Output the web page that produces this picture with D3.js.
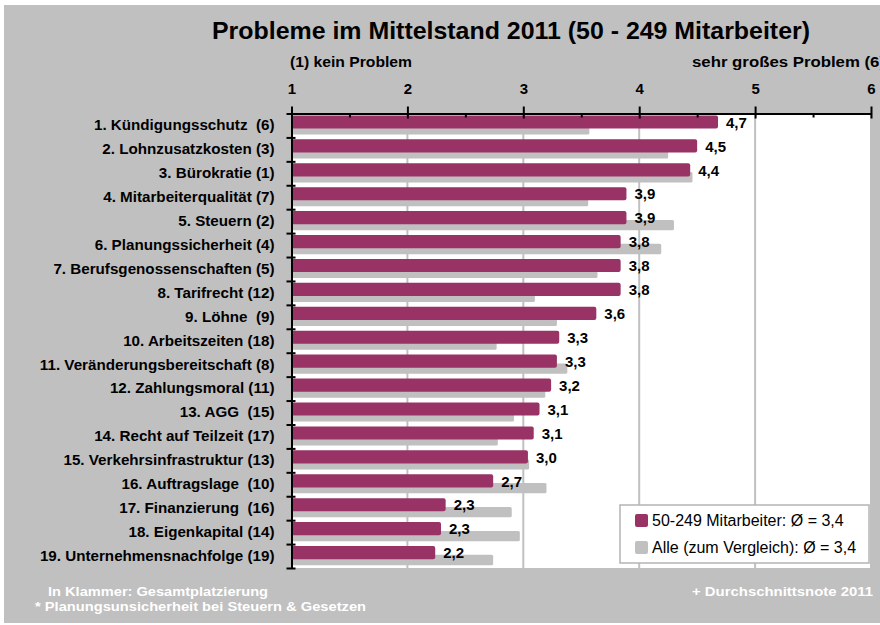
<!DOCTYPE html>
<html>
<head>
<meta charset="utf-8">
<script src="https://cdn.jsdelivr.net/npm/d3@7"></script>
<style>
  body { margin: 0; background: #fff; }
  svg text { font-family: "Liberation Sans", Arial, sans-serif; }
  .narrow { font-family: "Liberation Sans Narrow", "Arial Narrow", "Liberation Sans", sans-serif; }
</style>
</head>
<body>
<svg id="chart" width="880" height="625"></svg>
<script>
// categories, top to bottom
var categories = [
  '1. Kündigungsschutz  (6)',
  '2. Lohnzusatzkosten (3)',
  '3. Bürokratie (1)',
  '4. Mitarbeiterqualität (7)',
  '5. Steuern (2)',
  '6. Planungssicherheit (4)',
  '7. Berufsgenossenschaften (5)',
  '8. Tarifrecht (12)',
  '9. Löhne  (9)',
  '10. Arbeitszeiten (18)',
  '11. Veränderungsbereitschaft (8)',
  '12. Zahlungsmoral (11)',
  '13. AGG  (15)',
  '14. Recht auf Teilzeit (17)',
  '15. Verkehrsinfrastruktur (13)',
  '16. Auftragslage  (10)',
  '17. Finanzierung  (16)',
  '18. Eigenkapital (14)',
  '19. Unternehmensnachfolge (19)'
];

// 50-249 Mitarbeiter
var mittelstand = [4.68, 4.50, 4.44, 3.89, 3.89, 3.84, 3.84, 3.84, 3.63, 3.31,
                   3.29, 3.24, 3.14, 3.09, 3.04, 2.74, 2.33, 2.29, 2.24];
// Alle (zum Vergleich)
var alle = [3.57, 4.25, 4.46, 3.56, 4.30, 4.19, 3.64, 3.10, 3.29, 2.77,
            3.38, 3.19, 2.92, 2.78, 3.05, 3.20, 2.90, 2.97, 2.74];

var xTicks = [1, 2, 3, 4, 5, 6];
var xMinorTicks = [1.5, 2.5, 3.5, 4.5, 5.5];
var legendLabels = ['50-249 Mitarbeiter: Ø = 3,4', 'Alle (zum Vergleich): Ø = 3,4'];

var colors = { main: '#993366', all: '#c0c0c0', bg: '#c0c0c0', grid: '#c0c0c0' };

var svg = d3.select('#chart');

var x = d3.scaleLinear().domain([1, 6]).range([291.5, 871]);
var y = d3.scaleBand().domain(categories).range([113.5, 568]);
var yIdx = d3.scaleLinear().domain([0, categories.length]).range([113.5, 568]);
var bw = y.bandwidth();

var fmt = function(v) { return d3.format('.1f')(v).replace('.', ','); };

// background
svg.append('rect')
  .attr('x', 4).attr('y', 5).attr('width', 876).attr('height', 618)
  .attr('fill', colors.bg);

// title
svg.append('text')
  .attr('class', 'narrow')
  .attr('x', 212).attr('y', 39)
  .attr('textLength', 598).attr('lengthAdjust', 'spacingAndGlyphs')
  .style('font-size', '24px').style('font-weight', 'bold')
  .text('Probleme im Mittelstand 2011 (50 - 249 Mitarbeiter)');

svg.append('text')
  .attr('class', 'narrow')
  .attr('x', 290).attr('y', 67)
  .attr('textLength', 122).attr('lengthAdjust', 'spacingAndGlyphs')
  .style('font-size', '14px').style('font-weight', 'bold')
  .text('(1) kein Problem');

svg.append('text')
  .attr('class', 'narrow')
  .attr('x', 692).attr('y', 67)
  .attr('textLength', 193).attr('lengthAdjust', 'spacingAndGlyphs')
  .style('font-size', '14px').style('font-weight', 'bold')
  .text('sehr großes Problem (6)');

// plot area
svg.append('rect')
  .attr('x', x(1)).attr('y', yIdx(0))
  .attr('width', x(6) - x(1)).attr('height', yIdx(categories.length) - yIdx(0))
  .attr('fill', '#fff');

svg.selectAll('.grid')
  .data(xTicks.slice(1))
  .enter().append('line')
  .attr('class', 'grid')
  .attr('x1', d => x(d)).attr('x2', d => x(d))
  .attr('y1', yIdx(0)).attr('y2', yIdx(categories.length))
  .attr('stroke', colors.grid).attr('stroke-width', 2);

// bars
var rows = svg.selectAll('.row')
  .data(categories)
  .enter().append('g')
  .attr('class', 'row')
  .attr('transform', d => 'translate(0,' + y(d) + ')');

rows.append('rect')
  .attr('x', x(1))
  .attr('y', bw * 0.45)
  .attr('width', (d, i) => x(alle[i]) - x(1))
  .attr('height', bw * 0.43)
  .attr('rx', 1.5)
  .attr('fill', colors.all);

rows.append('rect')
  .attr('x', x(1))
  .attr('y', bw * 0.08)
  .attr('width', (d, i) => x(mittelstand[i]) - x(1))
  .attr('height', bw * 0.55)
  .attr('rx', 2)
  .attr('fill', colors.main);

rows.append('text')
  .attr('x', (d, i) => x(mittelstand[i]) + 8)
  .attr('y', bw / 2 - 3)
  .attr('dy', '0.35em')
  .style('font-size', '15px').style('font-weight', 'bold')
  .text((d, i) => fmt(mittelstand[i]));

// top axis
var topAxis = svg.append('g')
  .attr('transform', 'translate(0,' + yIdx(0) + ')')
  .call(d3.axisTop(x).tickValues(xTicks).tickFormat(d3.format('d'))
    .tickSizeInner(7).tickSizeOuter(0).tickPadding(13));
topAxis.select('.domain').attr('stroke-width', 2);
topAxis.selectAll('.tick line').attr('y1', 5).attr('stroke-width', 2);
topAxis.selectAll('.tick text')
  .style('font-size', '15px').style('font-weight', 'bold')
  .attr('fill', '#000');

var minorAxis = svg.append('g')
  .attr('transform', 'translate(0,' + yIdx(0) + ')')
  .call(d3.axisTop(x).tickValues(xMinorTicks).tickSize(0).tickFormat(''));
minorAxis.select('.domain').remove();
minorAxis.selectAll('.tick line').attr('y1', 0).attr('y2', 4).attr('stroke-width', 2);

// left axis: ticks between categories
var leftAxis = svg.append('g')
  .attr('transform', 'translate(' + x(1) + ',0)')
  .call(d3.axisLeft(yIdx).tickValues(d3.range(categories.length + 1)).tickSize(5).tickSizeOuter(0).tickFormat(''));
leftAxis.select('.domain').attr('stroke-width', 2);
leftAxis.selectAll('.tick line').attr('x1', 4).attr('stroke-width', 2);

// category labels
var labelAxis = svg.append('g')
  .attr('transform', 'translate(' + x(1) + ',0)')
  .call(d3.axisLeft(y).tickSize(0).tickPadding(17));
labelAxis.select('.domain').remove();
labelAxis.selectAll('.tick text')
  .style('font-size', '15.2px').style('font-weight', 'bold')
  .style('white-space', 'pre')
  .attr('fill', '#000');

// legend
var legend = svg.append('g').attr('transform', 'translate(620,505)');
legend.append('rect')
  .attr('width', 249).attr('height', 58)
  .attr('fill', '#fff').attr('stroke', '#b4b4b4').attr('stroke-width', 1.5);
var items = legend.selectAll('.item')
  .data(legendLabels)
  .enter().append('g')
  .attr('transform', (d, i) => 'translate(15,' + (9 + i * 27) + ')');
items.append('rect')
  .attr('width', 13).attr('height', 13).attr('rx', 2)
  .attr('fill', (d, i) => i === 0 ? colors.main : colors.all);
items.append('text')
  .attr('x', 17).attr('y', 12)
  .style('font-size', '16px')
  .text(d => d);

// footer notes
svg.append('text')
  .attr('class', 'narrow')
  .attr('x', 48).attr('y', 596)
  .attr('textLength', 220).attr('lengthAdjust', 'spacingAndGlyphs')
  .style('font-size', '13px').style('font-weight', 'bold').attr('fill', '#fff')
  .text('In Klammer: Gesamtplatzierung');
svg.append('text')
  .attr('class', 'narrow')
  .attr('x', 35).attr('y', 611)
  .attr('textLength', 331).attr('lengthAdjust', 'spacingAndGlyphs')
  .style('font-size', '13px').style('font-weight', 'bold').attr('fill', '#fff')
  .text('* Planungsunsicherheit bei Steuern & Gesetzen');
svg.append('text')
  .attr('class', 'narrow')
  .attr('x', 692).attr('y', 596)
  .attr('textLength', 181).attr('lengthAdjust', 'spacingAndGlyphs')
  .style('font-size', '13px').style('font-weight', 'bold').attr('fill', '#fff')
  .text('+ Durchschnittsnote 2011');
</script>
</body>
</html>
